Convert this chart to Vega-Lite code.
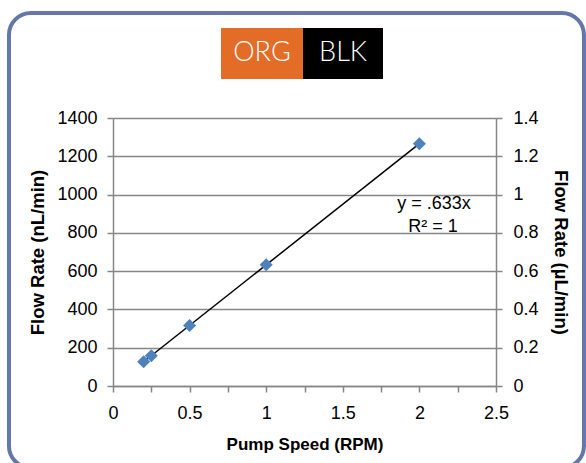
{
  "$schema": "https://vega.github.io/schema/vega-lite/v6.json",
  "width": 383,
  "height": 268,
  "autosize": {"type": "none"},
  "padding": {"left": 113, "top": 118, "right": 90, "bottom": 77},
  "background": "white",
  "config": {
    "font": "Liberation Sans",
    "view": {"stroke": null},
    "axis": {
      "labelFont": "Liberation Sans",
      "labelFontSize": 18,
      "labelColor": "#000000",
      "labelOverlap": false,
      "labelFlush": false,
      "labelBound": false,
      "titleFont": "Liberation Sans",
      "titleFontSize": 17,
      "titleFontWeight": "bold",
      "titleColor": "#000000",
      "domainColor": "#868686",
      "domainWidth": 1.5,
      "tickColor": "#868686",
      "tickWidth": 1.5,
      "tickSize": 6,
      "gridColor": "#868686",
      "gridWidth": 1.3
    },
    "axisY": {"titleFontSize": 18.5}
  },
  "datasets": {
    "pump": [
      {"speed": 0.2, "flow": 126.6},
      {"speed": 0.25, "flow": 158.25},
      {"speed": 0.5, "flow": 316.5},
      {"speed": 1, "flow": 633},
      {"speed": 2, "flow": 1266}
    ]
  },
  "layer": [
    {
      "layer": [
        {
          "data": {"values": [{}]},
          "mark": {"type": "rect", "filled": false, "stroke": "#6377a8", "strokeWidth": 4, "cornerRadius": 22, "clip": false},
          "encoding": {
            "x": {"datum": -0.679, "type": "quantitative", "scale": {"domain": [0, 2.5], "nice": false},
              "axis": {"title": "Pump Speed (RPM)", "values": [0, 0.25, 0.5, 0.75, 1, 1.25, 1.5, 1.75, 2, 2.25, 2.5], "labelExpr": "(datum.value * 4) % 2 == 0 ? format(datum.value, '~g') : ''", "labelPadding": 12, "titlePadding": 14, "grid": false, "zindex": 1}},
            "x2": {"datum": 3.074},
            "y": {"datum": 1948.5, "type": "quantitative", "scale": {"domain": [0, 1400], "nice": false},
              "axis": {"title": "Flow Rate (nL/min)", "values": [0, 200, 400, 600, 800, 1000, 1200, 1400], "format": "d", "labelPadding": 10, "titlePadding": 9, "grid": true, "zindex": 0}},
            "y2": {"datum": -428}
          }
        },
        {
          "data": {"name": "pump"},
          "transform": [{"regression": "flow", "on": "speed", "method": "linear"}],
          "mark": {"type": "line", "color": "black", "strokeWidth": 1.5},
          "encoding": {
            "x": {"field": "speed", "type": "quantitative", "scale": {"domain": [0, 2.5], "nice": false},
              "axis": {"title": "Pump Speed (RPM)", "values": [0, 0.25, 0.5, 0.75, 1, 1.25, 1.5, 1.75, 2, 2.25, 2.5], "labelExpr": "(datum.value * 4) % 2 == 0 ? format(datum.value, '~g') : ''", "labelPadding": 12, "titlePadding": 14, "grid": false, "zindex": 1}},
            "y": {"field": "flow", "type": "quantitative", "scale": {"domain": [0, 1400], "nice": false},
              "axis": {"title": "Flow Rate (nL/min)", "values": [0, 200, 400, 600, 800, 1000, 1200, 1400], "format": "d", "labelPadding": 10, "titlePadding": 9, "grid": true, "zindex": 0}}
          }
        },
        {
          "data": {"name": "pump"},
          "mark": {"type": "point", "shape": "diamond", "filled": true, "color": "#4f81bd", "size": 170, "opacity": 1},
          "encoding": {
            "x": {"field": "speed", "type": "quantitative", "scale": {"domain": [0, 2.5], "nice": false},
              "axis": {"title": "Pump Speed (RPM)", "values": [0, 0.25, 0.5, 0.75, 1, 1.25, 1.5, 1.75, 2, 2.25, 2.5], "labelExpr": "(datum.value * 4) % 2 == 0 ? format(datum.value, '~g') : ''", "labelPadding": 12, "titlePadding": 14, "grid": false, "zindex": 1}},
            "y": {"field": "flow", "type": "quantitative", "scale": {"domain": [0, 1400], "nice": false},
              "axis": {"title": "Flow Rate (nL/min)", "values": [0, 200, 400, 600, 800, 1000, 1200, 1400], "format": "d", "labelPadding": 10, "titlePadding": 9, "grid": true, "zindex": 0}}
          }
        },
        {
          "data": {"values": [{"label": "ORG"}]},
          "mark": {"type": "rect", "fill": "#e36c26", "clip": false},
          "encoding": {
            "x": {"datum": 0.705, "type": "quantitative", "scale": {"domain": [0, 2.5], "nice": false},
              "axis": {"title": "Pump Speed (RPM)", "values": [0, 0.25, 0.5, 0.75, 1, 1.25, 1.5, 1.75, 2, 2.25, 2.5], "labelExpr": "(datum.value * 4) % 2 == 0 ? format(datum.value, '~g') : ''", "labelPadding": 12, "titlePadding": 14, "grid": false, "zindex": 1}},
            "x2": {"datum": 1.2402},
            "y": {"datum": 1870, "type": "quantitative", "scale": {"domain": [0, 1400], "nice": false},
              "axis": {"title": "Flow Rate (nL/min)", "values": [0, 200, 400, 600, 800, 1000, 1200, 1400], "format": "d", "labelPadding": 10, "titlePadding": 9, "grid": true, "zindex": 0}},
            "y2": {"datum": 1604}
          }
        },
        {
          "data": {"values": [{"label": "BLK"}]},
          "mark": {"type": "rect", "fill": "#000000", "clip": false},
          "encoding": {
            "x": {"datum": 1.2402, "type": "quantitative", "scale": {"domain": [0, 2.5], "nice": false},
              "axis": {"title": "Pump Speed (RPM)", "values": [0, 0.25, 0.5, 0.75, 1, 1.25, 1.5, 1.75, 2, 2.25, 2.5], "labelExpr": "(datum.value * 4) % 2 == 0 ? format(datum.value, '~g') : ''", "labelPadding": 12, "titlePadding": 14, "grid": false, "zindex": 1}},
            "x2": {"datum": 1.7624},
            "y": {"datum": 1870, "type": "quantitative", "scale": {"domain": [0, 1400], "nice": false},
              "axis": {"title": "Flow Rate (nL/min)", "values": [0, 200, 400, 600, 800, 1000, 1200, 1400], "format": "d", "labelPadding": 10, "titlePadding": 9, "grid": true, "zindex": 0}},
            "y2": {"datum": 1604}
          }
        },
        {
          "data": {"values": [{"label": "ORG", "pos": 0.9726}, {"label": "BLK", "pos": 1.5013}]},
          "mark": {"type": "text", "color": "white", "font": "Lato", "fontSize": 27, "fontWeight": 300, "baseline": "middle", "align": "center", "clip": false},
          "encoding": {
            "x": {"field": "pos", "type": "quantitative", "scale": {"domain": [0, 2.5], "nice": false},
              "axis": {"title": "Pump Speed (RPM)", "values": [0, 0.25, 0.5, 0.75, 1, 1.25, 1.5, 1.75, 2, 2.25, 2.5], "labelExpr": "(datum.value * 4) % 2 == 0 ? format(datum.value, '~g') : ''", "labelPadding": 12, "titlePadding": 14, "grid": false, "zindex": 1}},
            "y": {"datum": 1737, "type": "quantitative", "scale": {"domain": [0, 1400], "nice": false},
              "axis": {"title": "Flow Rate (nL/min)", "values": [0, 200, 400, 600, 800, 1000, 1200, 1400], "format": "d", "labelPadding": 10, "titlePadding": 9, "grid": true, "zindex": 0}},
            "text": {"field": "label"}
          }
        },
        {
          "data": {"values": [{"line": "y = .633x", "ex": 2.095, "ey": 950}, {"line": "R² = 1", "ex": 2.089, "ey": 830}]},
          "mark": {"type": "text", "color": "black", "font": "Liberation Sans", "fontSize": 18, "baseline": "middle", "align": "center"},
          "encoding": {
            "x": {"field": "ex", "type": "quantitative", "scale": {"domain": [0, 2.5], "nice": false},
              "axis": {"title": "Pump Speed (RPM)", "values": [0, 0.25, 0.5, 0.75, 1, 1.25, 1.5, 1.75, 2, 2.25, 2.5], "labelExpr": "(datum.value * 4) % 2 == 0 ? format(datum.value, '~g') : ''", "labelPadding": 12, "titlePadding": 14, "grid": false, "zindex": 1}},
            "y": {"field": "ey", "type": "quantitative", "scale": {"domain": [0, 1400], "nice": false},
              "axis": {"title": "Flow Rate (nL/min)", "values": [0, 200, 400, 600, 800, 1000, 1200, 1400], "format": "d", "labelPadding": 10, "titlePadding": 9, "grid": true, "zindex": 0}},
            "text": {"field": "line"}
          }
        }
      ]
    },
    {
      "data": {"values": [{}]},
      "mark": {"type": "point", "opacity": 0},
      "encoding": {
        "y": {
          "datum": 0, "type": "quantitative",
          "scale": {"domain": [0, 1.4], "nice": false},
          "axis": {
            "orient": "right",
            "title": "Flow Rate (µL/min)",
            "values": [0, 0.2, 0.4, 0.6, 0.8, 1, 1.2, 1.4],
            "format": "~g",
            "labelPadding": 11,
            "titlePadding": 12,
            "grid": false,
            "zindex": 1
          }
        }
      }
    }
  ],
  "resolve": {"scale": {"y": "independent"}, "axis": {"y": "independent"}}
}
